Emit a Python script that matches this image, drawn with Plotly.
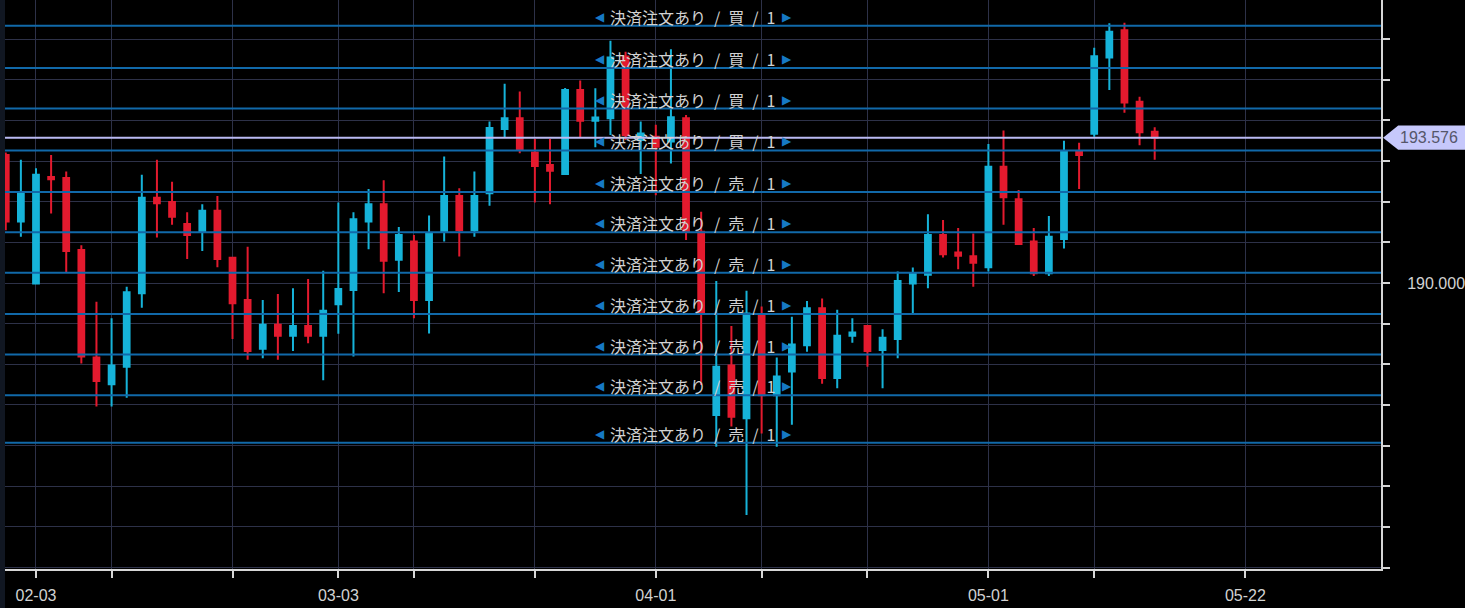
import pandas as pd
import plotly.graph_objects as go

# ---------------- data ----------------
# trading days shown as candles, then calendar days of the empty future area
trade_dates = [d.strftime("%Y-%m-%d") for d in pd.bdate_range("2025-01-30", "2025-05-16")]
future_dates = [d.strftime("%Y-%m-%d") for d in pd.date_range("2025-05-17", "2025-06-06")]

open_ = [193.15, 191.51, 189.99, 192.61, 192.58, 190.81, 188.17, 187.51, 187.94, 189.75,
         192.10, 191.99, 191.45, 191.26, 191.78, 190.62, 189.58, 188.38, 188.97, 188.70,
         188.94, 188.70, 189.48, 189.83, 191.51, 191.94, 190.57, 191.02, 189.58, 191.26,
         192.14, 191.30, 192.21, 193.79, 194.05, 193.21, 192.90, 192.68, 194.75, 193.99,
         194.05, 195.57, 193.52, 193.60, 193.48, 194.05, 191.26, 186.75, 187.97, 186.67,
         189.21, 187.24, 187.82, 188.47, 189.38, 187.66, 188.70, 188.94, 188.35, 188.62,
         189.99, 190.20, 191.18, 190.75, 190.66, 190.39, 192.86, 192.06, 191.02, 190.24,
         191.08, 193.23, 193.67, 195.55, 196.22, 194.46, 193.72]
high = [193.21, 193.03, 192.82, 193.15, 192.74, 190.93, 189.54, 189.13, 189.91, 192.66,
        193.03, 192.49, 191.74, 191.94, 192.14, 190.63, 190.89, 189.58, 189.73, 189.87,
        190.10, 190.30, 191.98, 191.74, 192.31, 192.53, 191.38, 191.18, 191.66, 193.11,
        192.33, 192.74, 193.97, 194.90, 194.71, 193.54, 193.54, 194.80, 194.98, 194.79,
        195.96, 195.69, 193.97, 193.89, 195.75, 194.13, 191.75, 190.05, 188.94, 189.81,
        189.42, 188.17, 189.17, 189.56, 189.62, 189.34, 189.13, 188.96, 188.86, 190.28,
        190.38, 191.69, 191.55, 191.35, 191.22, 193.42, 193.75, 192.29, 191.35, 191.65,
        193.50, 193.45, 195.79, 196.39, 196.40, 194.58, 193.83]
low = [191.30, 191.14, 189.97, 191.71, 190.25, 188.02, 186.96, 186.96, 187.18, 189.39,
       191.12, 191.43, 190.59, 190.79, 190.39, 188.62, 188.11, 188.15, 188.11, 188.33,
       188.52, 187.61, 188.75, 188.19, 190.83, 189.75, 189.78, 189.13, 188.76, 191.02,
       190.65, 191.14, 191.90, 193.58, 193.19, 191.98, 191.94, 192.66, 193.58, 193.34,
       193.64, 193.52, 192.68, 192.16, 192.94, 191.06, 187.49, 185.97, 186.47, 184.29,
       186.30, 185.97, 186.51, 188.31, 187.52, 187.41, 188.53, 187.94, 187.41, 188.15,
       189.25, 189.87, 190.63, 190.34, 189.91, 190.28, 191.43, 190.94, 190.17, 190.17,
       190.85, 192.31, 193.60, 194.75, 194.19, 193.39, 193.03]
close = [191.51, 192.23, 192.66, 192.55, 190.79, 188.19, 187.59, 187.97, 189.77, 192.10,
         191.96, 191.63, 191.18, 191.78, 190.59, 189.50, 188.33, 188.97, 188.70, 188.94,
         188.70, 189.32, 189.85, 191.57, 191.94, 190.55, 191.18, 189.58, 191.22, 192.14,
         191.30, 192.14, 193.81, 194.05, 193.29, 192.88, 192.76, 194.75, 193.99, 194.07,
         195.55, 193.64, 193.68, 193.35, 194.08, 191.26, 189.25, 187.94, 186.71, 189.25,
         187.24, 187.70, 188.49, 189.38, 187.66, 188.70, 188.78, 188.33, 188.65, 190.05,
         190.22, 191.18, 190.71, 190.67, 190.50, 192.86, 192.11, 190.96, 190.24, 191.14,
         193.23, 193.15, 195.58, 196.18, 194.44, 193.71, 193.576]

buy_orders = [196.33, 195.29, 194.29, 193.26]
sell_orders = [192.24, 191.25, 190.25, 189.24, 188.24, 187.24, 186.07]
buy_label = "決済注文あり\u2002/\u2002買\u2002/\u20021"
sell_label = "決済注文あり\u2002/\u2002売\u2002/\u20021"

x_tick_dates = ["2025-02-03", "2025-02-10", "2025-02-20", "2025-03-03", "2025-03-10",
                "2025-03-20", "2025-04-01", "2025-04-10", "2025-04-21", "2025-05-01",
                "2025-05-12", "2025-05-22"]
x_tick_text = ["02-03", "", "", "03-03", "", "", "04-01", "", "", "05-01", "", "05-22"]
y_tick_vals = [183, 184, 185, 186, 187, 188, 189, 190, 191, 192, 193, 194, 195, 196]
y_tick_text = ["", "", "", "", "", "", "", "190.000", "", "", "", "", "", ""]

# ---------------- style ----------------
UP = "#16b3d9"
DOWN = "#e31a2e"
GRID = "#2d3148"
ORDER = "#1169a9"
LAST = "#babaf3"
TAG = "#c6c8fb"
AXIS = "#d6d6d6"
TXT = "#d2d2d2"
ARROW = "#1679c4"

fig = go.Figure()
fig.add_trace(go.Candlestick(
    x=trade_dates, open=open_, high=high, low=low, close=close,
    increasing=dict(line=dict(color=UP, width=2), fillcolor=UP),
    decreasing=dict(line=dict(color=DOWN, width=2), fillcolor=DOWN),
    whiskerwidth=0, showlegend=False, hoverinfo="skip",
))

shapes = []
annotations = []
# left dark strip
shapes.append(dict(type="rect", xref="paper", yref="paper", x0=-0.0037, x1=0, y0=-0.07, y1=1,
                   fillcolor="#111722", line=dict(width=0), layer="below"))

for price, label in [(p, buy_label) for p in buy_orders] + [(p, sell_label) for p in sell_orders]:
    shapes.append(dict(type="line", xref="paper", yref="y", x0=0, x1=1, y0=price, y1=price,
                       line=dict(color=ORDER, width=2), layer="above"))
    annotations.append(dict(xref="paper", yref="y", x=0.4993, y=price, yshift=9,
                            text=label, showarrow=False, xanchor="center", yanchor="middle",
                            font=dict(family="Noto Sans CJK JP", size=16, color=TXT)))
    annotations.append(dict(xref="paper", yref="y", x=0.4325, y=price, yshift=9,
                            text="◀", showarrow=False, xanchor="center", yanchor="middle",
                            font=dict(family="DejaVu Sans", size=12, color=ARROW)))
    annotations.append(dict(xref="paper", yref="y", x=0.5686, y=price, yshift=9,
                            text="▶", showarrow=False, xanchor="center", yanchor="middle",
                            font=dict(family="DejaVu Sans", size=12, color=ARROW)))

last = close[-1]
shapes.append(dict(type="line", xref="paper", yref="y", x0=0, x1=1, y0=last, y1=last,
                   line=dict(color=LAST, width=2), layer="above"))
h = 0.30
shapes.append(dict(type="path", xref="paper", yref="y", layer="above",
                   path=f"M 1.0015,{last} L 1.0125,{last + h} L 1.07,{last + h} "
                        f"L 1.07,{last - h} L 1.0125,{last - h} Z",
                   fillcolor=TAG, line=dict(width=0)))
annotations.append(dict(xref="paper", yref="y", x=1.0, xshift=17, y=last, text=f"{last:.3f}",
                        showarrow=False, xanchor="left", yanchor="middle",
                        font=dict(family="Liberation Sans", size=16, color="#55566a")))

fig.update_layout(
    width=1465, height=608,
    margin=dict(l=5, r=82, t=0, b=39),
    paper_bgcolor="#000000", plot_bgcolor="#000000",
    boxgap=0.62, boxgroupgap=0,
    shapes=shapes, annotations=annotations,
    showlegend=False,
    xaxis=dict(type="category", categoryorder="array", categoryarray=trade_dates + future_dates,
               range=[-0.05, 90.97], tickvals=x_tick_dates, ticktext=x_tick_text,
               showgrid=True, gridcolor=GRID, gridwidth=1, zeroline=False,
               ticks="outside", ticklen=7, tickwidth=1.5, tickcolor=AXIS,
               showline=True, linecolor=AXIS, linewidth=2, ticklabelstandoff=4,
               tickfont=dict(family="Liberation Sans", size=16, color=TXT),
               rangeslider=dict(visible=False), fixedrange=True),
    yaxis=dict(side="right", range=[182.964, 196.962], tickvals=y_tick_vals, ticktext=y_tick_text,
               showgrid=True, gridcolor=GRID, gridwidth=1, zeroline=False,
               ticks="outside", ticklen=7, tickwidth=1.5, tickcolor=AXIS,
               showline=True, linecolor=AXIS, linewidth=2, ticklabelstandoff=14,
               tickfont=dict(family="Liberation Sans", size=16, color=TXT), fixedrange=True),
)

fig.write_html("out.html", config={"displayModeBar": False},
               post_script="document.body.style.margin='0';document.body.style.overflow='hidden';")
